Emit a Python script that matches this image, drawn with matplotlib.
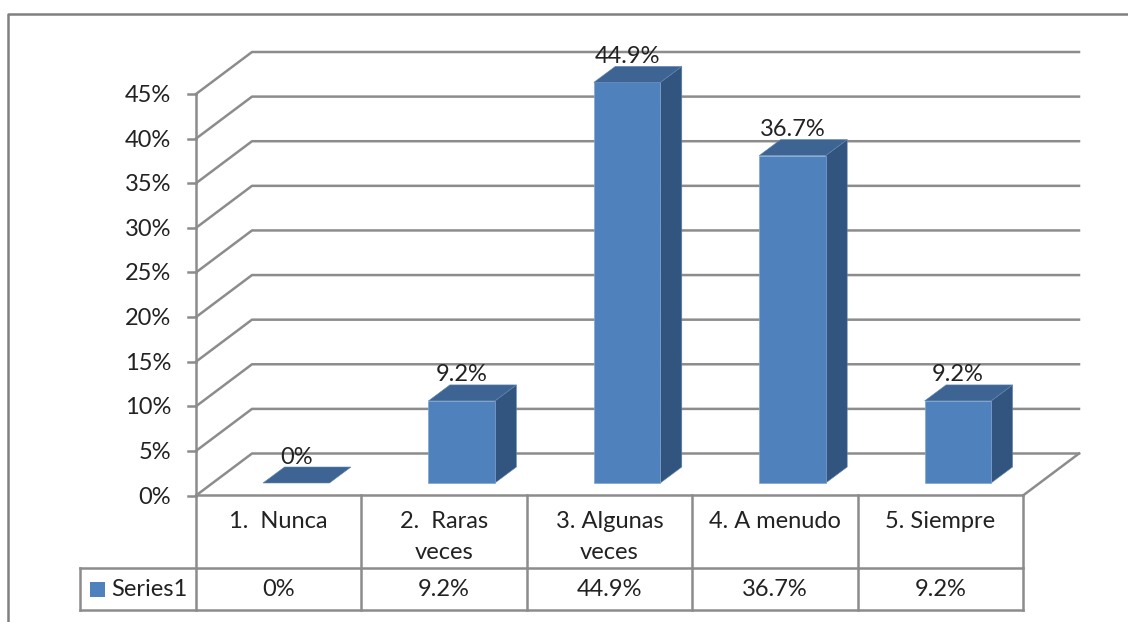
import matplotlib
matplotlib.use('Agg')
import matplotlib.pyplot as plt
from matplotlib.patches import Polygon

# datos
categorias = ['1.  Nunca', '2.  Raras\nveces', '3. Algunas\nveces', '4. A menudo', '5. Siempre']
valores = [0, 9.2, 44.9, 36.7, 9.2]
etiquetas = ['0%', '9.2%', '44.9%', '36.7%', '9.2%']
ticks = [0, 5, 10, 15, 20, 25, 30, 35, 40, 45]
serie = 'Series1'

plt.rcParams['font.family'] = ['Lato', 'DejaVu Sans']

GRIS = '#8c8c8c'
TEXTO = '#222222'
FS = 17
LW = 1.8
W, H = 1128, 622

fig = plt.figure(figsize=(W / 100, H / 100), dpi=100)

################ capa en pixeles: marco y tabla ################
px = fig.add_axes([0, 0, 1, 1])
px.set_xlim(0, W)
px.set_ylim(H, 0)
px.axis('off')

################ capa de datos: x en categorias, y en porcentaje ################
x0, x5 = 196, 1023
y0, y45 = 495.5, 94
cx = (x5 - x0) / 5
cy = (y0 - y45) / 45
ax = fig.add_axes([0, 0, 1, 1])
ax.set_xlim(-x0 / cx, (W - x0) / cx)
ax.set_ylim(-(H - y0) / cy, y0 / cy)
ax.axis('off')
ax.patch.set_alpha(0)

# profundidad de la pared y de las barras
wall_dx, wall_dy = 56 / cx, 42 / cy
bar_dx, bar_dy = 21.5 / cx, 16 / cy
bar_x, bar_w = 67 / cx, 66.5 / cx
bar_base = 12.5 / cy
label_off = 26 / cy

# grilla
for t in ticks:
    ax.plot([0, wall_dx, 5 + wall_dx], [t, t + wall_dy, t + wall_dy], color=GRIS, lw=LW, zorder=1)
    ax.plot([-8 / cx, 0], [t, t], color=GRIS, lw=LW, zorder=1)
    ax.text(-25 / cx, t - 1.5 / cy, str(t) + '%', ha='right', va='center', fontsize=FS, color=TEXTO)
ax.plot([0, 0], [0, 45], color=GRIS, lw=LW, zorder=1)
ax.plot([5, 5 + wall_dx], [0, wall_dy], color=GRIS, lw=LW, zorder=1)

# barras
for i, v in enumerate(valores):
    l = i + bar_x
    r = l + bar_w
    b = bar_base
    t = bar_base + v
    if v > 0:
        ax.add_patch(Polygon([(r, b), (r + bar_dx, b + bar_dy), (r + bar_dx, t + bar_dy), (r, t)],
                             fc='#325580', ec='#5f86b3', lw=0.4, zorder=3))
        ax.add_patch(Polygon([(l, b), (r, b), (r, t), (l, t)],
                             fc='#4f81bd', ec='#7fa5d2', lw=0.5, zorder=4))
    ax.add_patch(Polygon([(l, t), (r, t), (r + bar_dx, t + bar_dy), (l + bar_dx, t + bar_dy)],
                         fc='#3d6492', ec='#5f86b3', lw=0.4, zorder=4))
    ax.text(l + bar_w / 2, t + label_off, etiquetas[i], ha='center', va='center',
            fontsize=FS, color=TEXTO, zorder=6)

################ tabla de datos y marco ################
fila1, fila2, fila3 = 495, 568, 610
bordes = [x0 + cx * i for i in range(6)]
px.plot([8, 8, W], [H, 14, 14], color='#808080', lw=LW)
px.plot([x0, x5], [fila1, fila1], color=GRIS, lw=LW)
px.plot([80, x5], [fila2, fila2], color=GRIS, lw=LW)
px.plot([80, x5], [fila3, fila3], color=GRIS, lw=LW)
px.plot([80, 80], [fila2, fila3], color=GRIS, lw=LW)
for xb in bordes:
    px.plot([xb, xb], [fila1, fila3], color=GRIS, lw=LW)
for i, c in enumerate(categorias):
    xc = bordes[i] + cx / 2
    px.text(xc, 537 if '\n' in c else 521, c, ha='center', va='center', fontsize=FS,
            color=TEXTO, linespacing=1.6)
    px.text(xc, 590, etiquetas[i], ha='center', va='center', fontsize=FS, color=TEXTO)
px.add_patch(Polygon([(90, 582), (105, 582), (105, 597), (90, 597)], fc='#4f81bd', ec='none'))
px.text(111, 589, serie, ha='left', va='center', fontsize=FS, color=TEXTO)

plt.savefig('out.png', dpi=100)
